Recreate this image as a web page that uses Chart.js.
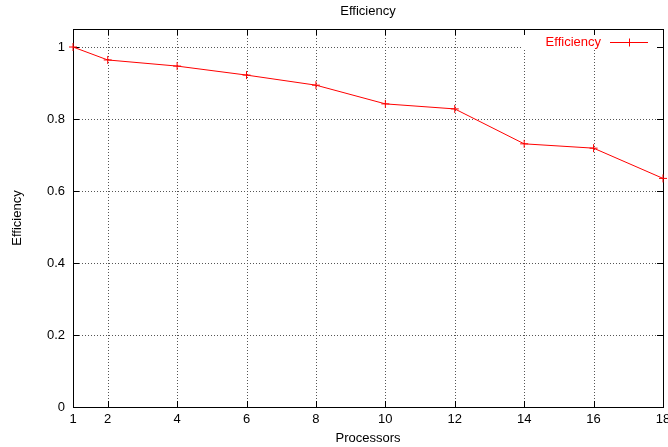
<!DOCTYPE html>
<html>
<head>
<meta charset="utf-8">
<script src="https://cdn.jsdelivr.net/npm/chart.js@4.4.1/dist/chart.umd.min.js"></script>
<style>
  html, body { margin: 0; padding: 0; background: #fff; }
  #wrap { width: 668px; height: 447px; }
</style>
</head>
<body>
<div id="wrap"><canvas id="effChart"></canvas></div>
<script>
// processors used and measured parallel efficiency
const processors = [1, 2, 4, 6, 8, 10, 12, 14, 16, 18];
const efficiency = [1.0, 0.964, 0.947, 0.922, 0.894, 0.842, 0.828, 0.731, 0.719, 0.635];
const xTickValues = [1, 2, 4, 6, 8, 10, 12, 14, 16, 18];
const yTickValues = [0, 0.2, 0.4, 0.6, 0.8, 1];

const FONT = 'Liberation Sans, Helvetica, Arial, sans-serif';
const RED = '#ff0000';

// gnuplot-like frame: dotted grid, inward ticks on all sides, title and key
const frame = {
  id: 'frame',
  beforeDatasetsDraw(chart) {
    const { ctx, chartArea: a, scales: { x, y } } = chart;
    ctx.save();
    ctx.strokeStyle = '#555';
    ctx.lineWidth = 1;
    ctx.setLineDash([1, 2]);
    xTickValues.forEach(v => {
      const px = Math.round(x.getPixelForValue(v)) + 0.5;
      if (px <= a.left + 1 || px >= a.right - 1) return;
      ctx.beginPath(); ctx.moveTo(px, a.top); ctx.lineTo(px, a.bottom); ctx.stroke();
    });
    yTickValues.forEach(v => {
      const py = Math.round(y.getPixelForValue(v)) + 0.5;
      if (py <= a.top + 1 || py >= a.bottom - 1) return;
      ctx.beginPath(); ctx.moveTo(a.left, py); ctx.lineTo(a.right, py); ctx.stroke();
    });
    ctx.setLineDash([]);

    // key area is kept clear of the grid
    ctx.fillStyle = '#fff';
    ctx.fillRect(523, a.top + 1, a.right - 523 - 1, 19);

    // border
    ctx.strokeStyle = '#000';
    ctx.strokeRect(Math.round(a.left) + 0.5, Math.round(a.top) + 0.5,
      Math.round(a.right - a.left), Math.round(a.bottom - a.top));

    // tick marks, inside, mirrored
    const tl = 6;
    ctx.beginPath();
    xTickValues.forEach(v => {
      const px = Math.round(x.getPixelForValue(v)) + 0.5;
      ctx.moveTo(px, a.bottom); ctx.lineTo(px, a.bottom - tl);
      ctx.moveTo(px, a.top); ctx.lineTo(px, a.top + tl);
    });
    yTickValues.forEach(v => {
      const py = Math.round(y.getPixelForValue(v)) + 0.5;
      ctx.moveTo(a.left, py); ctx.lineTo(a.left + tl, py);
      ctx.moveTo(a.right, py); ctx.lineTo(a.right - tl, py);
    });
    ctx.stroke();

    // title, centred over the plot area
    ctx.font = '13px ' + FONT;
    ctx.fillStyle = '#000';
    ctx.textAlign = 'center';
    ctx.textBaseline = 'alphabetic';
    ctx.fillText('Efficiency', (a.left + a.right) / 2, 15);

    // key
    const ky = 42.5;
    ctx.fillStyle = RED;
    ctx.textAlign = 'right';
    ctx.textBaseline = 'middle';
    ctx.fillText('Efficiency', 601, ky);
    ctx.strokeStyle = RED;
    ctx.beginPath();
    ctx.moveTo(610, ky); ctx.lineTo(648, ky);
    ctx.moveTo(629.5, ky - 4); ctx.lineTo(629.5, ky + 4);
    ctx.moveTo(625.5, ky); ctx.lineTo(633.5, ky);
    ctx.stroke();
    ctx.restore();
  }
};

const ctx = document.getElementById('effChart').getContext('2d');
new Chart(ctx, {
  type: 'line',
  data: {
    datasets: [{
      label: 'Efficiency',
      data: processors.map((p, i) => ({ x: p, y: efficiency[i] })),
      borderColor: RED,
      backgroundColor: RED,
      borderWidth: 1,
      pointStyle: 'cross',
      pointRadius: 4,
      pointBorderWidth: 1,
      pointBorderColor: RED,
      tension: 0,
      clip: 4
    }]
  },
  options: {
    responsive: true,
    maintainAspectRatio: false,
    animation: false,
    layout: { padding: { left: 0, right: 4, top: 29, bottom: 0 } },
    plugins: {
      legend: { display: false },
      tooltip: { enabled: false },
      title: { display: false }
    },
    scales: {
      x: {
        type: 'linear',
        min: 1,
        max: 18,
        afterBuildTicks: s => { s.ticks = xTickValues.map(v => ({ value: v })); },
        afterFit: s => { s.height = 40; s.paddingLeft = 0; s.paddingRight = 0; },
        grid: { display: false, drawTicks: false },
        border: { display: false },
        ticks: {
          color: '#000',
          font: { family: FONT, size: 13 },
          padding: 5,
          maxRotation: 0,
          autoSkip: false
        },
        title: {
          display: true,
          text: 'Processors',
          color: '#000',
          font: { family: FONT, size: 13 },
          padding: { top: 0, bottom: 1 }
        }
      },
      y: {
        type: 'linear',
        min: 0,
        max: 1.05,
        afterBuildTicks: s => { s.ticks = yTickValues.map(v => ({ value: v })); },
        afterFit: s => { s.width = 73; s.paddingTop = 0; s.paddingBottom = 0; },
        grid: { display: false, drawTicks: false },
        border: { display: false },
        ticks: {
          color: '#000',
          font: { family: FONT, size: 13 },
          padding: 8,
          callback: v => String(Math.round(v * 10) / 10)
        },
        title: {
          display: true,
          text: 'Efficiency',
          color: '#000',
          font: { family: FONT, size: 13 },
          padding: { top: 10, bottom: 0 }
        }
      }
    }
  },
  plugins: [frame]
});
</script>
</body>
</html>
